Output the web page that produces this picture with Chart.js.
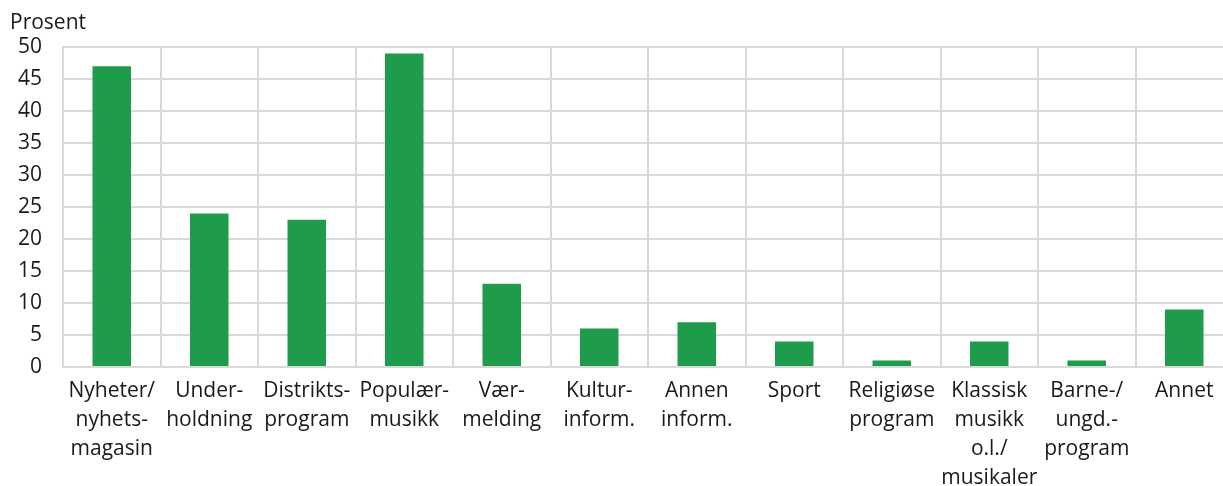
<!DOCTYPE html>
<html><head><meta charset="utf-8">
<script src="https://cdn.jsdelivr.net/npm/chart.js@4/dist/chart.umd.min.js"></script>
<style>html,body{margin:0;padding:0;background:#fff;overflow:hidden;width:1223px;height:486px}#c{display:block}</style>
</head><body>
<canvas id="c" width="1233" height="486"></canvas>
<script>
const categories = [
  ["Nyheter/","nyhets-","magasin"],
  ["Under-","holdning"],
  ["Distrikts-","program"],
  ["Populær-","musikk"],
  ["Vær-","melding"],
  ["Kultur-","inform."],
  ["Annen","inform."],
  ["Sport"],
  ["Religiøse","program"],
  ["Klassisk","musikk","o.l./","musikaler"],
  ["Barne-/","ungd.-","program"],
  ["Annet"]
];
const values = [47, 24, 23, 49, 13, 6, 7, 4, 1, 4, 1, 9];
const yTicks = [0,5,10,15,20,25,30,35,40,45,50];
const yTitle = "Prosent";

const xFont = {family: "'Open Sans', sans-serif", size: 21, lineHeight: 1.38};
const yFont = {family: "'Open Sans', sans-serif", size: 21, lineHeight: 1.2};
const titlePlugin = {
  id: 'ytitle',
  afterDraw(chart) {
    const ctx = chart.ctx;
    ctx.save();
    ctx.font = "21px 'Open Sans', sans-serif";
    ctx.fillStyle = '#1a1a1a';
    ctx.textBaseline = 'alphabetic';
    ctx.textAlign = 'left';
    ctx.fillText(yTitle, 10, 29);
    ctx.restore();
  }
};
new Chart(document.getElementById('c'), {
  type: 'bar',
  data: {labels: categories, datasets: [{data: values, backgroundColor: '#1e9c4b', barPercentage: 0.395, categoryPercentage: 1}]},
  options: {
    responsive: false, animation: false,
    layout: {padding: {top: 47, right: 0, left: 0, bottom: 0}},
    plugins: {legend: {display: false}, tooltip: {enabled: false}},
    scales: {
      x: {
        afterFit(axis){ axis.height = 119; },
        grid: {color: '#d9d9d9', lineWidth: 2, offset: true, drawTicks: false},
        border: {color: '#d9d9d9', width: 2},
        ticks: {font: xFont, color: '#1a1a1a', maxRotation: 0, autoSkip: false, padding: 10},
      },
      y: {
        min: 0, max: 50,
        afterBuildTicks(axis){ axis.ticks = yTicks.map(v=>({value:v})); },
        afterFit(axis){ axis.width = 63; },
        grid: {color: '#d9d9d9', lineWidth: 2, drawTicks: false},
        border: {color: '#d9d9d9', width: 2},
        ticks: {font: yFont, color: '#1a1a1a', padding: 21}
      }
    }
  },
  plugins: [titlePlugin]
});
</script>
</body></html>
